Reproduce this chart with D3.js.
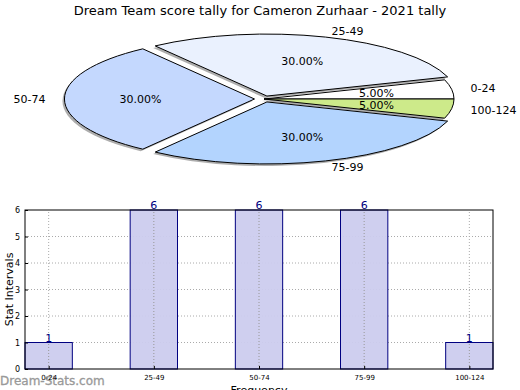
<!DOCTYPE html>
<html>
<head>
<meta charset="utf-8">
<script src="https://cdn.jsdelivr.net/npm/d3@7"></script>
<style>
  body { margin: 0; background: #fff; }
  text { font-family: "DejaVu Sans", sans-serif; }
</style>
</head>
<body>
<div id="chart"></div>
<script>
var categories = ["0-24", "25-49", "50-74", "75-99", "100-124"],
    counts = [1, 6, 6, 6, 1],
    exploded = [0, 0.05, 0.05, 0.05, 0],
    sliceColors = ["#ffffff", "#eaf1fe", "#c4d8fe", "#b3d4fe", "#cdea8a"],
    yTicks = [0, 1, 2, 3, 4, 5, 6];

var w = 520, h = 390;

var svg = d3.select("#chart").append("svg")
    .attr("width", w)
    .attr("height", h);

svg.append("text")
    .attr("x", 260).attr("y", 15)
    .attr("text-anchor", "middle")
    .style("font-size", "13px")
    .text("Dream Team score tally for Cameron Zurhaar - 2021 tally");

// ---- pie (squashed ellipse, counter-clockwise from east like matplotlib)
var cx = 264, cy = 99, rx = 190, ry = 62;
var total = d3.sum(counts);

var pie = d3.pie().sort(null)
    .startAngle(Math.PI / 2)
    .endAngle(Math.PI / 2 - 2 * Math.PI);
var arcs = pie(counts);
var arc = d3.arc().innerRadius(0).outerRadius(1);

function mid(d) { return (d.startAngle + d.endAngle) / 2; }
function offset(d, i, r) {
  var a = mid(d), e = exploded[i] + r;
  return [cx + Math.sin(a) * e * rx, cy - Math.cos(a) * e * ry];
}

var pieG = svg.append("g");

// shadows
pieG.selectAll("path.shadow")
    .data(arcs)
  .enter().append("path")
    .attr("class", "shadow")
    .attr("d", arc)
    .attr("transform", function(d, i) {
      var p = offset(d, i, 0);
      return "translate(" + (p[0] - 2) + "," + (p[1] + 2) + ") scale(" + rx + "," + ry + ")";
    })
    .attr("fill", "#777")
    .attr("fill-opacity", 0.6);

pieG.selectAll("path.slice")
    .data(arcs)
  .enter().append("path")
    .attr("class", "slice")
    .attr("d", arc)
    .attr("transform", function(d, i) {
      var p = offset(d, i, 0);
      return "translate(" + p[0] + "," + p[1] + ") scale(" + rx + "," + ry + ")";
    })
    .attr("fill", function(d, i) { return sliceColors[i]; })
    .attr("stroke", "#000")
    .attr("stroke-width", 1)
    .attr("vector-effect", "non-scaling-stroke");

pieG.selectAll("text.lbl")
    .data(arcs)
  .enter().append("text")
    .attr("class", "lbl")
    .attr("x", function(d, i) { return offset(d, i, 1.1)[0]; })
    .attr("y", function(d, i) { return offset(d, i, 1.1)[1]; })
    .attr("dy", "0.35em")
    .attr("text-anchor", function(d) { return Math.sin(mid(d)) < -0.01 ? "end" : "start"; })
    .style("font-size", "11px")
    .text(function(d, i) { return categories[i]; });

pieG.selectAll("text.pct")
    .data(arcs)
  .enter().append("text")
    .attr("class", "pct")
    .attr("x", function(d, i) { return offset(d, i, 0.6)[0]; })
    .attr("y", function(d, i) { return offset(d, i, 0.6)[1]; })
    .attr("dy", "0.35em")
    .attr("text-anchor", "middle")
    .style("font-size", "11px")
    .text(function(d) { return (d.value / total * 100).toFixed(2) + "%"; });

// ---- bar chart
var m = [210, 27, 21, 25]; // top right bottom left
var bw = 0.45;

var x = d3.scaleLinear()
    .domain([-bw / 2, categories.length - 1 + bw / 2])
    .range([m[3], w - m[1]]);
var y = d3.scaleLinear()
    .domain([0, 6])
    .range([h - m[2], m[0]]);

// watermark
svg.append("text")
    .attr("x", 0).attr("y", 385)
    .style("font-size", "12px")
    .attr("fill", "#999")
    .attr("stroke", "#999")
    .attr("stroke-width", 0.3)
    .text("Dream-Stats.com");

var grid = svg.append("g")
    .attr("stroke", "#aaa")
    .attr("stroke-dasharray", "1,2");
grid.selectAll("line.gy")
    .data(yTicks.slice(1, -1))
  .enter().append("line")
    .attr("x1", x.range()[0]).attr("x2", x.range()[1])
    .attr("y1", y).attr("y2", y);
grid.selectAll("line.gx")
    .data(categories)
  .enter().append("line")
    .attr("x1", function(d, i) { return x(i); })
    .attr("x2", function(d, i) { return x(i); })
    .attr("y1", y.range()[0]).attr("y2", y.range()[1]);

svg.selectAll("rect.bar")
    .data(counts)
  .enter().append("rect")
    .attr("class", "bar")
    .attr("x", function(d, i) { return x(i - bw / 2); })
    .attr("width", function() { return x(bw) - x(0); })
    .attr("y", function(d) { return y(d); })
    .attr("height", function(d) { return y(0) - y(d); })
    .attr("fill", "#ccccee")
    .attr("fill-opacity", 0.95)
    .attr("stroke", "#000080");

// grid shows through bars in reference
svg.append("g")
    .attr("stroke", "#999")
    .attr("stroke-dasharray", "1,2")
  .selectAll("line")
    .data(categories)
  .enter().append("line")
    .attr("x1", function(d, i) { return x(i); })
    .attr("x2", function(d, i) { return x(i); })
    .attr("y1", y(0)).attr("y2", function(d, i) { return y(counts[i]); });

svg.selectAll("text.val")
    .data(counts)
  .enter().append("text")
    .attr("class", "val")
    .attr("x", function(d, i) { return x(i); })
    .attr("y", function(d) { return y(d) - 1; })
    .attr("text-anchor", "middle")
    .attr("fill", "#000080")
    .style("font-size", "11px")
    .text(function(d) { return d; });

// frame
svg.append("rect")
    .attr("x", x.range()[0]).attr("y", y.range()[1])
    .attr("width", x.range()[1] - x.range()[0])
    .attr("height", y.range()[0] - y.range()[1])
    .attr("fill", "none")
    .attr("stroke", "#000");

var yAxis = d3.axisLeft(y).tickValues(yTicks).tickFormat(d3.format("d"))
    .tickSize(-3).tickPadding(5);
svg.append("g")
    .attr("transform", "translate(" + m[3] + ",0)")
    .call(yAxis)
    .call(function(g) { g.select(".domain").remove(); })
    .selectAll("text").style("font-size", "8px").attr("fill", "#000");

var xAxis = d3.axisBottom(x)
    .tickValues(d3.range(categories.length))
    .tickFormat(function(i) { return categories[i]; })
    .tickSize(-3).tickPadding(6);
svg.append("g")
    .attr("transform", "translate(0," + (h - m[2]) + ")")
    .call(xAxis)
    .call(function(g) { g.select(".domain").remove(); })
    .selectAll("text").style("font-size", "7px").attr("fill", "#000");

svg.append("text")
    .attr("transform", "translate(13," + (y(3)) + ") rotate(-90)")
    .attr("text-anchor", "middle")
    .style("font-size", "11px")
    .text("Stat Intervals");

svg.append("text")
    .attr("x", x(2)).attr("y", 394)
    .attr("text-anchor", "middle")
    .style("font-size", "11px")
    .text("Frequency");
</script>
</body>
</html>
